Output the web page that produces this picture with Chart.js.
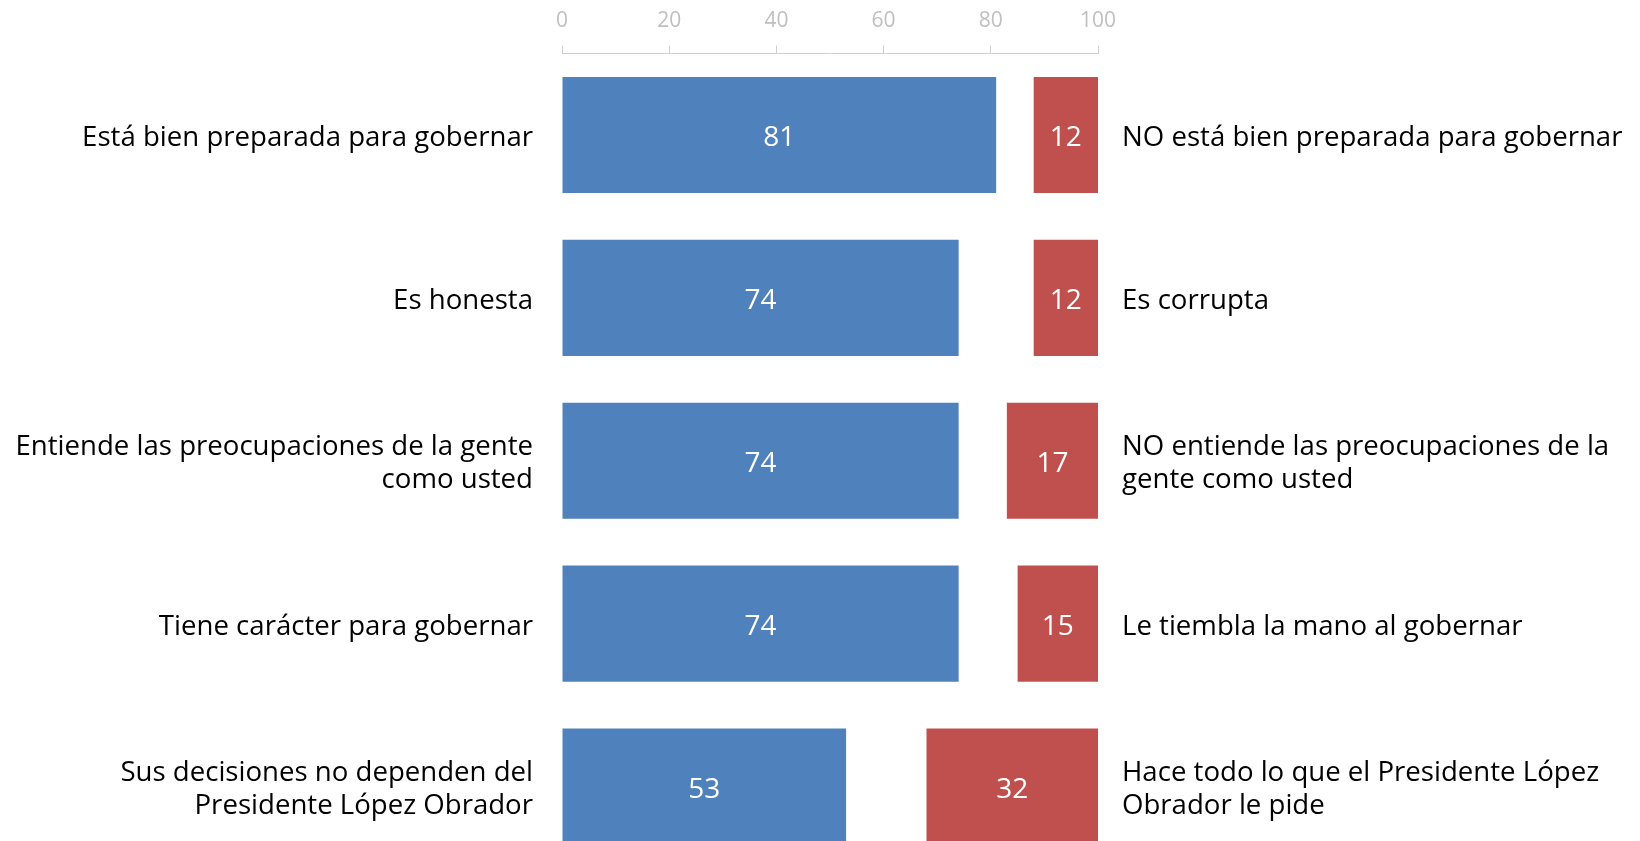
<!DOCTYPE html>
<html>
<head>
<meta charset="utf-8">
<script src="https://cdn.jsdelivr.net/npm/chart.js@4/dist/chart.umd.min.js"></script>
<style>
  html, body { margin: 0; padding: 0; background: #fff; overflow: hidden; }
  #wrap { position: relative; width: 1640px; height: 868px; }
</style>
</head>
<body>
<div id="wrap"><canvas id="chart"></canvas></div>
<script>
// data
var leftLabels = [
  "Está bien preparada para gobernar",
  "Es honesta",
  ["Entiende las preocupaciones de la gente", "como usted"],
  "Tiene carácter para gobernar",
  ["Sus decisiones no dependen del", "Presidente López Obrador"]
];
var rightLabels = [
  "NO está bien preparada para gobernar",
  "Es corrupta",
  ["NO entiende las preocupaciones de la", "gente como usted"],
  "Le tiembla la mano al gobernar",
  ["Hace todo lo que el Presidente López", "Obrador le pide"]
];
var positiveValues = [81, 74, 74, 74, 53];
var negativeValues = [12, 12, 17, 15, 32];
var axisTicks = [0, 20, 40, 60, 80, 100];

var FONT = "'Open Sans', 'Noto Sans', sans-serif";

// red bars hang from the right end of the 0-100 scale
var negativeRanges = negativeValues.map(function (v) { return [100 - v, 100]; });

// white numbers in the middle of each bar
var barValuePlugin = {
  id: 'barValues',
  afterDatasetsDraw: function (chart) {
    var ctx = chart.ctx;
    ctx.save();
    ctx.fillStyle = '#ffffff';
    ctx.font = '28px ' + FONT;
    ctx.textAlign = 'center';
    ctx.textBaseline = 'middle';
    chart.data.datasets.forEach(function (ds, i) {
      var meta = chart.getDatasetMeta(i);
      meta.data.forEach(function (bar, j) {
        var raw = ds.data[j];
        var val = Array.isArray(raw) ? raw[1] - raw[0] : raw;
        var x = (bar.x + bar.base) / 2;
        ctx.fillText(String(val), x, bar.y + 3);
      });
    });
    ctx.restore();
  }
};

// keep the label axes from pushing the plot area in
function noPad(scale) {
  scale.paddingTop = 0;
  scale.paddingBottom = 0;
}

var ctx = document.getElementById('chart').getContext('2d');
new Chart(ctx, {
  type: 'bar',
  data: {
    labels: leftLabels,
    datasets: [{
      label: 'positivo',
      data: positiveValues,
      backgroundColor: '#4f81bd',
      grouped: false,
      categoryPercentage: 1,
      barPercentage: 0.713
    }, {
      label: 'negativo',
      data: negativeRanges,
      backgroundColor: '#c0504d',
      grouped: false,
      categoryPercentage: 1,
      barPercentage: 0.713
    }]
  },
  options: {
    indexAxis: 'y',
    responsive: true,
    maintainAspectRatio: false,
    animation: false,
    events: [],
    layout: { padding: 0 },
    plugins: {
      legend: { display: false },
      tooltip: { enabled: false }
    },
    scales: {
      x: {
        position: 'top',
        min: 0,
        max: 100,
        afterBuildTicks: function (scale) {
          scale.ticks = axisTicks.map(function (v) { return { value: v }; });
        },
        afterFit: function (scale) {
          scale.height = 53.6;
          scale.paddingLeft = 0;
          scale.paddingRight = 0;
        },
        ticks: {
          color: '#bfbfbf',
          font: { family: FONT, size: 21 },
          padding: 12,
          maxRotation: 0
        },
        grid: {
          drawOnChartArea: false,
          drawTicks: true,
          tickLength: 8,
          color: '#d0d0d0'
        },
        border: { display: true, color: '#d0d0d0', width: 1 }
      },
      y: {
        position: 'left',
        afterFit: function (scale) { scale.width = 562; noPad(scale); },
        ticks: {
          color: '#000000',
          font: { family: FONT, size: 27.6, lineHeight: 1.22 },
          padding: 29,
          labelOffset: 3
        },
        grid: { display: false, drawTicks: false },
        border: { display: false }
      },
      y2: {
        type: 'category',
        position: 'right',
        labels: rightLabels,
        offset: true,
        afterFit: function (scale) { scale.width = 542; noPad(scale); },
        ticks: {
          color: '#000000',
          font: { family: FONT, size: 27.6, lineHeight: 1.22 },
          padding: 24,
          labelOffset: 3
        },
        grid: { display: false, drawTicks: false },
        border: { display: false }
      }
    }
  },
  plugins: [barValuePlugin]
});
</script>
</body>
</html>
